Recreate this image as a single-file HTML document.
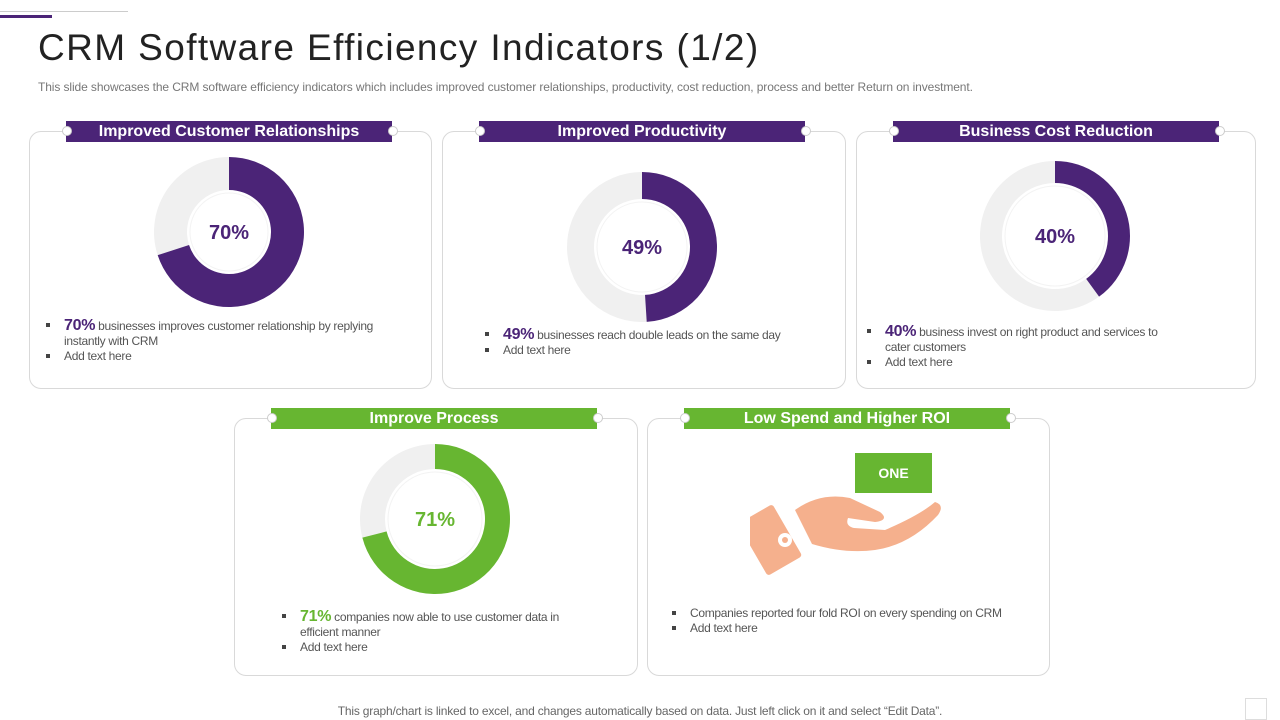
<!DOCTYPE html>
<html><head><meta charset="utf-8"><style>
body{margin:0;width:1280px;height:720px;background:#fff;font-family:"Liberation Sans",sans-serif;position:relative;overflow:hidden}
.abs{position:absolute}
.card{position:absolute;border:1px solid #d9d9d9;border-radius:12px;background:#fff}
.hdr{position:absolute;height:21px;color:#fff;font-weight:bold;font-size:16px;text-align:center;line-height:21px}
.dot{position:absolute;width:8px;height:8px;border-radius:50%;background:#fff;border:1px solid #ccc}
.txt{position:absolute;font-size:12px;color:#555;line-height:15px;letter-spacing:-0.3px}
.txt div{position:relative;padding-left:18px}
.txt div:before{content:"";position:absolute;left:0;top:5px;width:4px;height:4px;background:#444}
.big{font-size:16px;font-weight:bold}
</style></head><body>
<div class="abs" style="left:0;top:11px;width:128px;height:1px;background:#ccc"></div>
<div class="abs" style="left:0;top:15px;width:52px;height:3px;background:#4b2477"></div>
<div class="abs" style="left:38px;top:27px;font-size:37px;color:#222;letter-spacing:1.4px">CRM Software Efficiency Indicators (1/2)</div>
<div class="abs" style="left:38px;top:80px;font-size:12px;color:#777;letter-spacing:-0.1px">This slide showcases the CRM software efficiency indicators which includes improved customer relationships, productivity, cost reduction, process and better Return on investment.</div>
<div id="root"></div>
<svg class="abs" style="left:0;top:0" width="1280" height="720" id="svg"></svg>
<div class="abs" style="left:855px;top:453px;width:77px;height:40px;background:#67b631;color:#fff;font-weight:bold;font-size:14px;text-align:center;line-height:40px">ONE</div>
<div class="txt" style="left:672px;top:606px"><div>Companies reported four fold ROI on every spending on CRM</div><div>Add text here</div></div>
<div class="abs" style="left:0;width:1280px;text-align:center;top:704px;font-size:12px;color:#666;letter-spacing:-0.2px">This graph/chart is linked to excel, and changes automatically based on data. Just left click on it and select “Edit Data”.</div>
<div class="abs" style="left:1245px;top:698px;width:20px;height:20px;border:1px solid #ddd"></div>
<script>
const titles=["Improved Customer Relationships","Improved Productivity","Business Cost Reduction","Improve Process","Low Spend and Higher ROI"];
const values=[70,49,40,71];
const descs=["businesses improves customer relationship by replying instantly with CRM","businesses reach double leads on the same day","business invest on right product and services to cater customers","companies now able to use customer data in efficient manner"];
const cards=[[29,131,401,256],[442,131,402,256],[856,131,398,256],[234,418,402,256],[647,418,401,256]];
const colors=["#4b2477","#4b2477","#4b2477","#67b631","#67b631"];
const centers=[[229,232,42],[642,247,48],[1055,236,53],[435,519,50]];
const texts=[[46,318,345],[485,327,340],[867,324,315],[282,609,300]];
const root=document.getElementById('root');const svg=document.getElementById('svg');
const NS="http://www.w3.org/2000/svg";
cards.forEach((c,i)=>{
 const d=document.createElement('div');d.className='card';
 
 
 d.style.cssText=`left:${c[0]}px;top:${c[1]}px;width:${c[2]}px;height:${c[3]}px`;root.appendChild(d);
 const h=document.createElement('div');h.className='hdr';
 
 
 const hl=c[0]+37;h.style.cssText=`left:${hl}px;top:${c[1]-10}px;width:326px;background:${colors[i]}`;h.textContent=titles[i];root.appendChild(h);
 [hl-4,hl+322].forEach(x=>{const o=document.createElement('div');o.className='dot';
 
 
 o.style.cssText=`left:${x}px;top:${c[1]-5}px`;root.appendChild(o);});
});
function arcPath(cx,cy,R,r,a0,a1){const p=(rad,a)=>[cx+rad*Math.sin(a),cy-rad*Math.cos(a)];const lg=(a1-a0)>Math.PI?1:0;
 const A=p(R,a0),B=p(R,a1),C=p(r,a1),D=p(r,a0);
 return `M${A}A${R},${R} 0 ${lg} 1 ${B}L${C}A${r},${r} 0 ${lg} 0 ${D}Z`;}
values.forEach((v,i)=>{
 const [cx,cy,r]=centers[i];const R=75;const a=v/100*2*Math.PI;
 const g=document.createElementNS(NS,'path');g.setAttribute('d',arcPath(cx,cy,R,r,a,2*Math.PI-0.0001));g.setAttribute('fill','#f0f0f0');
 
 svg.appendChild(g);
 const p=document.createElementNS(NS,'path');p.setAttribute('d',arcPath(cx,cy,R,r,0,a));p.setAttribute('fill',colors[i]);
 
 svg.appendChild(p);
 const ci=document.createElementNS(NS,'circle');ci.setAttribute('cx',cx);ci.setAttribute('cy',cy);ci.setAttribute('r',r-3);ci.setAttribute('fill','#fff');ci.setAttribute('stroke','#f3f3f3');
 
 svg.appendChild(ci);
 const t=document.createElementNS(NS,'text');t.setAttribute('x',cx);t.setAttribute('y',cy+7);t.setAttribute('text-anchor','middle');t.setAttribute('font-size','20');t.setAttribute('font-weight','bold');t.setAttribute('fill',colors[i]);t.setAttribute('font-family','Liberation Sans, sans-serif');t.textContent=v+'%';
 
 svg.appendChild(t);
 const tx=texts[i];const d=document.createElement('div');d.className='txt';
 
 
 d.style.cssText=`left:${tx[0]}px;top:${tx[1]}px;width:${tx[2]}px`;
 d.innerHTML=`<div><span class="big" style="color:${colors[i]}">${v}%</span> ${descs[i]}</div><div>Add text here</div>`;root.appendChild(d);
});
</script>
<svg class="abs" style="left:750px;top:490px" width="195" height="90">
<g fill="#f5b08d">
<rect x="0" y="20" width="40" height="60" rx="3" transform="rotate(-30 20 50)"/>
<path d="M45 20 Q70 2 100 8 L130 22 Q140 30 125 32 L98 28 Q95 36 104 38 L135 40 Q170 25 185 12 Q195 15 188 25 Q160 55 125 60 Q95 64 62 54 Z"/>
</g>
<circle cx="35" cy="50" r="7" fill="#fff"/><circle cx="35" cy="50" r="3" fill="#f5b08d"/>
</svg>
</body></html>
